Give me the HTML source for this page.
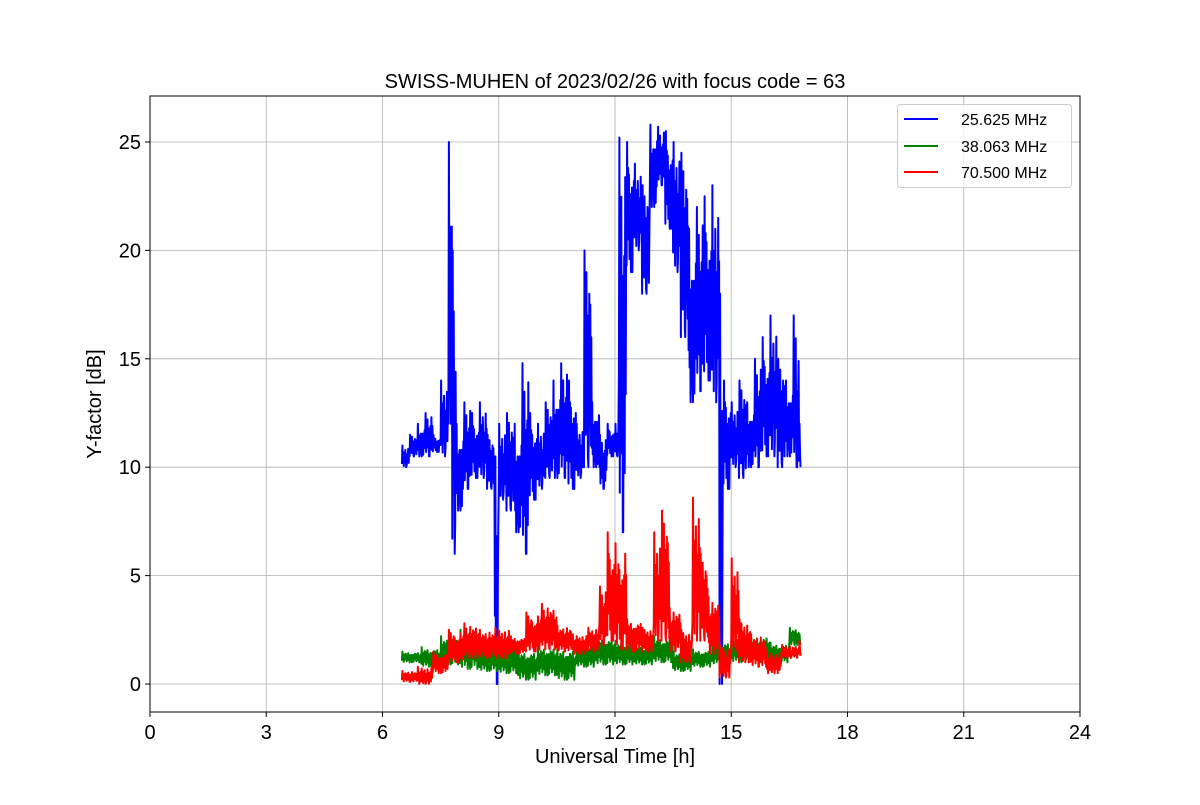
<!DOCTYPE html>
<html><head><meta charset="utf-8"><style>
html,body{margin:0;padding:0;background:#fff;}
svg text{font-family:"Liberation Sans","DejaVu Sans",sans-serif;}
</style></head><body>
<svg id="chart" width="1200" height="800" xmlns="http://www.w3.org/2000/svg">
<rect width="1200" height="800" fill="#fff"/>
<g id="grid"></g>
<g id="series"></g>
<rect x="150" y="96" width="930" height="616" fill="none" stroke="#000" stroke-width="1"/>
<g id="ticks"></g>
<text x="615" y="88" font-size="20" text-anchor="middle">SWISS-MUHEN of 2023/02/26 with focus code = 63</text>
<text x="615" y="763" font-size="20" text-anchor="middle">Universal Time [h]</text>
<text x="101" y="404" font-size="20" text-anchor="middle" transform="rotate(-90 101 404)">Y-factor [dB]</text>
<g>
<rect x="897.5" y="104.5" width="174" height="83" rx="3" fill="#fff" fill-opacity="0.8" stroke="#ccc"/>
<g><line x1="904" y1="119" x2="938" y2="119" stroke="#0000ff" stroke-width="2"/><text x="961" y="125" font-size="16">25.625 MHz</text></g>
<g><line x1="904" y1="146" x2="938" y2="146" stroke="#008000" stroke-width="2"/><text x="961" y="152" font-size="16">38.063 MHz</text></g>
<g><line x1="904" y1="172" x2="938" y2="172" stroke="#ff0000" stroke-width="2"/><text x="961" y="178" font-size="16">70.500 MHz</text></g>
</g>
</svg>
<script>
const xTicks=[0,3,6,9,12,15,18,21,24];
const yTicks=[0,5,10,15,20,25];
const blueT=[6.5,6.7,6.9,7.1,7.3,7.5,7.7,7.8,7.9,8.1,8.3,8.5,8.7,8.9,9.0,9.2,9.4,9.6,9.8,10.0,10.2,10.4,10.6,10.8,11.0,11.2,11.4,11.6,11.8,12.0,12.1,12.3,12.5,12.7,12.9,13.1,13.3,13.5,13.7,13.9,14.1,14.3,14.5,14.7,14.8,15.0,15.2,15.4,15.6,15.8,16.0,16.2,16.4,16.6,16.75];
const blueLo=[10,10.5,10.5,10.5,10.7,10.5,12,6,8,9,9.5,9.5,9,0,8.5,8,7,6,8.5,9,9.5,9.5,9.5,9,9.5,10,10,9,10.5,10.5,7,19,20,18,22,23,21,19,16,13,13.5,14,13,0,9,10,9.5,10,10,10.5,10.5,10,10.5,10,10];
const blueHi=[11,11.5,12,12.5,11.5,14,25,20,12,13,12.5,13,11.5,10.5,12,12.5,12,14.8,12.5,12,13,14,14.8,14,12,20,13,11.5,12,12,25.2,25,24,23,25.8,25.7,25.5,25,24.5,21,22,22.5,23,18,14,13,14,13,15,16,17,15,14,17,12];
const greenT=[6.5,7,7.5,8,8.5,9,9.5,10,10.5,11,11.5,12,12.5,13,13.5,14,14.5,15,15.5,16,16.5,16.75];
const greenLo=[1,0.8,0.9,0.7,0.6,0.5,0.2,0.4,0.2,0.8,0.9,0.9,0.9,1,0.6,0.8,0.9,1,1,1,1.8,1.8];
const greenHi=[1.5,1.7,2.2,2.5,1.8,1.8,1.6,1.8,1.7,1.8,2.2,2.0,1.8,2.2,1.5,1.6,2,2.2,2.3,1.9,2.6,2.3];
const redT=[6.5,6.9,7.3,7.7,8.1,8.5,8.9,9.3,9.7,10.1,10.5,10.9,11.3,11.6,11.8,12.0,12.3,12.7,13.0,13.2,13.4,13.7,14.0,14.2,14.4,14.7,15.0,15.2,15.5,15.9,16.3,16.75];
const redLo=[0.1,0,0.5,1,1.2,1.2,1.2,1.4,1.5,1.6,1.5,1.4,1.5,1.8,2,1.6,1.5,1.5,2,2,1.5,1,2,2,1.4,0.3,1.5,1,0.8,0.5,1.2,1.3];
const redHi=[0.6,0.8,1.5,2.5,2.8,2.5,2.6,2.2,3.3,3.7,2.7,2.3,2.6,4.5,7,6.5,3,2.6,7,8,3.5,2.5,8.6,6,4,1.8,5.8,3,2.3,1.5,1.8,2];
const X0=150,X1=1080,Y0=712,Y1=96,xmin=0,xmax=24,ymin=-1.29,ymax=27.12;
const sx=v=>X0+(v-xmin)/(xmax-xmin)*(X1-X0);
const sy=v=>Y0-(v-ymin)/(ymax-ymin)*(Y0-Y1);
const NS='http://www.w3.org/2000/svg';
const grid=document.getElementById('grid'),ticks=document.getElementById('ticks'),ser=document.getElementById('series');
function mk(tag,attrs,parent){const e=document.createElementNS(NS,tag);for(const k in attrs)e.setAttribute(k,attrs[k]);parent.appendChild(e);return e;}
xTicks.forEach(t=>{
  const x=sx(t);
  const g=mk('line',{x1:x,x2:x,y1:Y1,y2:Y0,stroke:'#b0b0b0','stroke-width':0.8},grid);
  
  
  const tk=mk('line',{x1:x,x2:x,y1:Y0,y2:Y0+5,stroke:'#000'},ticks);
  
  
  const lb=mk('text',{x:x,y:Y0+27,'font-size':20,'text-anchor':'middle'},ticks);
  lb.textContent=t;
  
  
});
yTicks.forEach(t=>{
  const y=sy(t);
  const g=mk('line',{x1:X0,x2:X1,y1:y,y2:y,stroke:'#b0b0b0','stroke-width':0.8},grid);
  
  
  const tk=mk('line',{x1:X0-5,x2:X0,y1:y,y2:y,stroke:'#000'},ticks);
  
  
  const lb=mk('text',{x:X0-9,y:y+7,'font-size':20,'text-anchor':'end'},ticks);
  lb.textContent=t;
  
  
});
// fixed rendering texture (fraction of band), not data
const texture=[0.15,0.9,0.35,0.7,0.05,0.55,0.25,0.8,0.4,0.75,0.1,0.6,0.3,0.85,0.2,0.65,0.0,0.5,0.45,0.7];
function draw(T,lo,hi,color,name){
  let d='',c=0;
  for(let i=0;i<T.length;i++){
    const t0=T[i],t1=i<T.length-1?T[i+1]:T[i]+0.05;
    const n=Math.max(4,Math.round((t1-t0)*80));
    for(let k=0;k<n;k++){
      const t=t0+(t1-t0)*k/n;
      let f=texture[c++%texture.length];
      if(k===1)f=1;
      if(k===Math.floor(n/2)+1)f=0;
      const v=lo[i]+(hi[i]-lo[i])*f;
      d+=(d?'L':'M')+sx(t).toFixed(1)+','+sy(v).toFixed(1);
    }
  }
  const p=mk('path',{d:d,fill:'none',stroke:color,'stroke-width':2,'stroke-linejoin':'round'},ser);
  
  
}
draw(blueT,blueLo,blueHi,'#0000ff','series-25625-mhz');
draw(greenT,greenLo,greenHi,'#008000','series-38063-mhz');
draw(redT,redLo,redHi,'#ff0000','series-70500-mhz');
</script>
</body></html>
